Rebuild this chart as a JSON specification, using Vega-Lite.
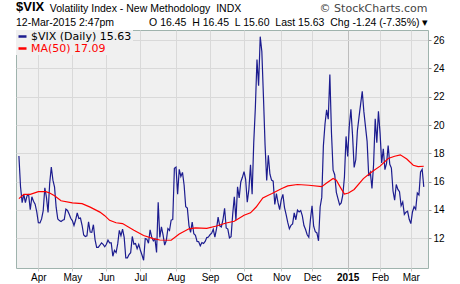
{
  "$schema": "https://vega.github.io/schema/vega-lite/v6.json",
  "width": 412,
  "height": 238,
  "autosize": {"type": "none"},
  "padding": {"left": 16, "top": 30, "right": 32, "bottom": 16},
  "background": "white",
  "config": {
    "view": {"fill": "#f0f0f0", "stroke": "#9fb3ad", "strokeWidth": 1},
    "font": "Liberation Sans"
  },
  "title": {
    "text": "$VIX",
    "subtitle": "12-Mar-2015 2:47pm\u00a0\u00a0\u00a0\u00a0\u00a0\u00a0\u00a0\u00a0\u00a0\u00a0\u00a0\u00a0O 16.45\u00a0 H 16.45\u00a0 L 15.60\u00a0 Last 15.63\u00a0 Chg -1.24 (-7.35%) \u25be",
    "anchor": "start",
    "frame": "group",
    "font": "Liberation Sans",
    "fontSize": 13,
    "fontWeight": "bold",
    "color": "#000000",
    "subtitleFont": "Liberation Sans",
    "subtitleFontSize": 10.5,
    "subtitleColor": "#000000",
    "subtitlePadding": 4,
    "offset": 3,
    "dy": 29
  },
  "datasets": {
    "vix": [
      {"i": -12, "v": 17.82}, {"i": -11, "v": 15.64}, {"i": -10, "v": 14.52}, {"i": -9, "v": 15.12}, {"i": -8, "v": 14.52}, {"i": -7, "v": 15.0}, {"i": -6, "v": 15.09}, {"i": -5, "v": 14.02}, {"i": -4, "v": 14.93}, {"i": -3, "v": 14.62}, {"i": -2, "v": 14.41}, {"i": -1, "v": 13.88},
      {"i": 0, "v": 13.1}, {"i": 1, "v": 13.09}, {"i": 2, "v": 13.37}, {"i": 3, "v": 13.96}, {"i": 4, "v": 15.57}, {"i": 5, "v": 14.89}, {"i": 6, "v": 13.82}, {"i": 7, "v": 15.89}, {"i": 8, "v": 17.03}, {"i": 9, "v": 16.11}, {"i": 10, "v": 15.61}, {"i": 11, "v": 14.18}, {"i": 12, "v": 13.36}, {"i": 13, "v": 13.25}, {"i": 14, "v": 13.19}, {"i": 15, "v": 13.27}, {"i": 16, "v": 13.32}, {"i": 17, "v": 14.06}, {"i": 18, "v": 13.97}, {"i": 19, "v": 13.71}, {"i": 20, "v": 13.41},
      {"i": 21, "v": 13.25}, {"i": 22, "v": 12.91}, {"i": 23, "v": 13.29}, {"i": 24, "v": 13.8}, {"i": 25, "v": 13.4}, {"i": 26, "v": 13.43}, {"i": 27, "v": 12.92}, {"i": 28, "v": 12.23}, {"i": 29, "v": 12.13}, {"i": 30, "v": 12.17}, {"i": 31, "v": 13.17}, {"i": 32, "v": 12.44}, {"i": 33, "v": 12.42}, {"i": 34, "v": 12.96}, {"i": 35, "v": 11.91}, {"i": 36, "v": 11.36}, {"i": 37, "v": 11.36}, {"i": 38, "v": 11.51}, {"i": 39, "v": 11.68}, {"i": 40, "v": 11.57}, {"i": 41, "v": 11.4},
      {"i": 42, "v": 11.58}, {"i": 43, "v": 11.87}, {"i": 44, "v": 11.68}, {"i": 45, "v": 11.68}, {"i": 46, "v": 10.73}, {"i": 47, "v": 11.15}, {"i": 48, "v": 10.99}, {"i": 49, "v": 11.6}, {"i": 50, "v": 12.56}, {"i": 51, "v": 12.18}, {"i": 52, "v": 12.65}, {"i": 53, "v": 12.06}, {"i": 54, "v": 10.61}, {"i": 55, "v": 10.62}, {"i": 56, "v": 10.85}, {"i": 57, "v": 10.98}, {"i": 58, "v": 12.13}, {"i": 59, "v": 11.59}, {"i": 60, "v": 11.63}, {"i": 61, "v": 11.26}, {"i": 62, "v": 11.57},
      {"i": 63, "v": 11.15}, {"i": 64, "v": 10.82}, {"i": 65, "v": 10.45}, {"i": 66, "v": 11.98}, {"i": 67, "v": 11.94}, {"i": 68, "v": 11.65}, {"i": 69, "v": 12.59}, {"i": 70, "v": 12.08}, {"i": 71, "v": 11.82}, {"i": 72, "v": 11.96}, {"i": 73, "v": 11.0}, {"i": 74, "v": 14.54}, {"i": 75, "v": 12.06}, {"i": 76, "v": 12.81}, {"i": 77, "v": 12.24}, {"i": 78, "v": 11.52}, {"i": 79, "v": 11.84}, {"i": 80, "v": 12.69}, {"i": 81, "v": 12.56}, {"i": 82, "v": 13.28}, {"i": 83, "v": 13.33}, {"i": 84, "v": 16.95},
      {"i": 85, "v": 17.03}, {"i": 86, "v": 15.12}, {"i": 87, "v": 16.87}, {"i": 88, "v": 16.37}, {"i": 89, "v": 16.66}, {"i": 90, "v": 15.77}, {"i": 91, "v": 14.23}, {"i": 92, "v": 14.13}, {"i": 93, "v": 12.9}, {"i": 94, "v": 12.42}, {"i": 95, "v": 13.15}, {"i": 96, "v": 12.32}, {"i": 97, "v": 12.21}, {"i": 98, "v": 11.78}, {"i": 99, "v": 11.76}, {"i": 100, "v": 11.47}, {"i": 101, "v": 11.7}, {"i": 102, "v": 11.63}, {"i": 103, "v": 11.78}, {"i": 104, "v": 12.05}, {"i": 105, "v": 12.09},
      {"i": 106, "v": 12.25}, {"i": 107, "v": 12.36}, {"i": 108, "v": 12.64}, {"i": 109, "v": 12.09}, {"i": 110, "v": 12.66}, {"i": 111, "v": 13.5}, {"i": 112, "v": 12.88}, {"i": 113, "v": 12.8}, {"i": 114, "v": 13.31}, {"i": 115, "v": 14.12}, {"i": 116, "v": 12.73}, {"i": 117, "v": 12.65}, {"i": 118, "v": 12.03}, {"i": 119, "v": 12.11}, {"i": 120, "v": 13.69}, {"i": 121, "v": 14.93}, {"i": 122, "v": 13.27}, {"i": 123, "v": 15.64}, {"i": 124, "v": 14.85}, {"i": 125, "v": 15.98}, {"i": 126, "v": 16.31},
      {"i": 127, "v": 16.71}, {"i": 128, "v": 16.16}, {"i": 129, "v": 14.55}, {"i": 130, "v": 15.46}, {"i": 131, "v": 17.2}, {"i": 132, "v": 15.11}, {"i": 133, "v": 18.76}, {"i": 134, "v": 21.24}, {"i": 135, "v": 24.64}, {"i": 136, "v": 22.79}, {"i": 137, "v": 26.25}, {"i": 138, "v": 25.2}, {"i": 139, "v": 21.99}, {"i": 140, "v": 18.57}, {"i": 141, "v": 16.08}, {"i": 142, "v": 17.87}, {"i": 143, "v": 16.53}, {"i": 144, "v": 16.11}, {"i": 145, "v": 16.04}, {"i": 146, "v": 14.39}, {"i": 147, "v": 15.15}, {"i": 148, "v": 14.52}, {"i": 149, "v": 14.03},
      {"i": 150, "v": 14.73}, {"i": 151, "v": 15.1}, {"i": 152, "v": 14.17}, {"i": 153, "v": 13.67}, {"i": 154, "v": 13.12}, {"i": 155, "v": 12.67}, {"i": 156, "v": 12.92}, {"i": 157, "v": 13.02}, {"i": 158, "v": 13.79}, {"i": 159, "v": 13.31}, {"i": 160, "v": 13.99}, {"i": 161, "v": 13.86}, {"i": 162, "v": 13.96}, {"i": 163, "v": 13.58}, {"i": 164, "v": 12.9}, {"i": 165, "v": 12.62}, {"i": 166, "v": 12.25}, {"i": 167, "v": 12.07}, {"i": 168, "v": 13.33},
      {"i": 169, "v": 14.29}, {"i": 170, "v": 12.85}, {"i": 171, "v": 12.47}, {"i": 172, "v": 12.38}, {"i": 173, "v": 11.82}, {"i": 174, "v": 14.21}, {"i": 175, "v": 14.89}, {"i": 176, "v": 18.53}, {"i": 177, "v": 20.08}, {"i": 178, "v": 21.08}, {"i": 179, "v": 20.42}, {"i": 180, "v": 23.57}, {"i": 181, "v": 19.44}, {"i": 182, "v": 16.81}, {"i": 183, "v": 16.49}, {"i": 184, "v": 15.25}, {"i": 185, "v": 14.8}, {"i": 186, "v": 14.37}, {"i": 187, "v": 14.5}, {"i": 188, "v": 15.06}, {"i": 189, "v": 16.33}, {"i": 190, "v": 19.2},
      {"i": 191, "v": 17.79}, {"i": 192, "v": 19.92}, {"i": 193, "v": 21.12}, {"i": 194, "v": 19.31}, {"i": 195, "v": 17.01}, {"i": 196, "v": 17.55}, {"i": 197, "v": 19.6}, {"i": 198, "v": 20.56}, {"i": 199, "v": 21.48}, {"i": 200, "v": 22.39}, {"i": 201, "v": 20.95}, {"i": 202, "v": 19.89}, {"i": 203, "v": 18.85}, {"i": 204, "v": 16.4}, {"i": 205, "v": 16.66}, {"i": 206, "v": 15.52}, {"i": 207, "v": 17.22}, {"i": 208, "v": 20.44}, {"i": 209, "v": 18.76}, {"i": 210, "v": 20.97},
      {"i": 211, "v": 19.43}, {"i": 212, "v": 17.33}, {"i": 213, "v": 18.33}, {"i": 214, "v": 16.85}, {"i": 215, "v": 17.29}, {"i": 216, "v": 18.55}, {"i": 217, "v": 17.23}, {"i": 218, "v": 16.96}, {"i": 219, "v": 15.34}, {"i": 220, "v": 14.69}, {"i": 221, "v": 15.8}, {"i": 222, "v": 15.45}, {"i": 223, "v": 15.29}, {"i": 224, "v": 14.3}, {"i": 225, "v": 14.56}, {"i": 226, "v": 13.69}, {"i": 227, "v": 13.84}, {"i": 228, "v": 13.91}, {"i": 229, "v": 13.34},
      {"i": 230, "v": 13.04}, {"i": 231, "v": 13.86}, {"i": 232, "v": 14.23}, {"i": 233, "v": 14.04}, {"i": 234, "v": 15.2}, {"i": 235, "v": 15.06}, {"i": 236, "v": 16.69}, {"i": 237, "v": 16.87}, {"i": 238, "v": 15.63}
    ],
    "ma": [
      {"i": -12, "v": 14.8}, {"i": -9, "v": 15.1}, {"i": -5, "v": 15.1}, {"i": 0, "v": 15.3}, {"i": 4.6, "v": 15.3}, {"i": 7, "v": 15.2}, {"i": 10, "v": 15.0}, {"i": 14, "v": 14.65}, {"i": 21, "v": 14.5}, {"i": 27, "v": 14.45}, {"i": 32, "v": 14.2}, {"i": 38, "v": 13.85}, {"i": 41, "v": 13.6}, {"i": 44, "v": 13.27}, {"i": 48, "v": 13.1}, {"i": 52, "v": 13.04}, {"i": 59, "v": 12.57}, {"i": 65, "v": 12.2}, {"i": 71, "v": 11.98}, {"i": 75, "v": 11.88}, {"i": 82, "v": 11.86}, {"i": 87, "v": 12.3}, {"i": 93, "v": 12.67}, {"i": 97, "v": 12.73}, {"i": 104, "v": 12.7}, {"i": 110, "v": 12.87}, {"i": 116, "v": 13.08}, {"i": 121, "v": 13.2}, {"i": 127, "v": 13.63}, {"i": 131, "v": 13.8}, {"i": 134.5, "v": 14.21}, {"i": 138.6, "v": 14.85}, {"i": 142, "v": 15.04}, {"i": 144.3, "v": 15.16}, {"i": 150, "v": 15.5}, {"i": 154, "v": 15.7}, {"i": 160, "v": 15.8}, {"i": 167, "v": 15.75}, {"i": 175, "v": 15.65}, {"i": 178, "v": 15.9}, {"i": 182, "v": 16.22}, {"i": 184, "v": 16.1}, {"i": 186.5, "v": 15.6}, {"i": 189, "v": 15.12}, {"i": 191.5, "v": 15.2}, {"i": 195, "v": 15.45}, {"i": 200.7, "v": 16.22}, {"i": 206, "v": 16.7}, {"i": 211, "v": 17.1}, {"i": 216, "v": 17.64}, {"i": 220, "v": 17.8}, {"i": 223.5, "v": 17.9}, {"i": 227.5, "v": 17.6}, {"i": 231.5, "v": 17.16}, {"i": 234.5, "v": 17.06}, {"i": 238, "v": 17.09}
    ]
  },
  "encoding": {
    "x": {
      "field": "i",
      "type": "quantitative",
      "title": "Volatility Index - New Methodology\u00a0\u00a0INDX",
      "scale": {"domain": [-13.8, 240.6], "nice": false, "zero": false},
      "axis": {
        "orient": "bottom",
        "values": [0, 21, 42, 63, 85, 106, 127, 150, 169, 191, 211, 230],
        "labelExpr": "['Apr','May','Jun','Jul','Aug','Sep','Oct','Nov','Dec','2015','Feb','Mar'][indexof([0,21,42,63,85,106,127,150,169,191,211,230], datum.value)]",
        "grid": true,
        "gridColor": {"condition": {"test": "datum.value == 191", "value": "#bdbdbd"}, "value": "#d9d9d9"},
        "domain": false,
        "ticks": true,
        "tickSize": 3,
        "tickColor": "#c8c8c8",
        "labelFont": "Liberation Sans",
        "labelFontSize": 10,
        "labelColor": "#000000",
        "labelPadding": 1,
        "labelFontWeight": {"condition": {"test": "datum.value == 191", "value": "bold"}, "value": "normal"},
        "labelFlush": false,
        "labelOverlap": false,
        "titleX": 33.3,
        "titleY": -257,
        "titleAlign": "left",
        "titleAngle": 0,
        "titleBaseline": "alphabetic",
        "titleFont": "Liberation Sans",
        "titleFontSize": 10.5,
        "titleFontWeight": "normal",
        "titleColor": "#000000"
      }
    },
    "y": {
      "field": "v",
      "type": "quantitative",
      "title": "\u00a9 StockCharts.com",
      "scale": {"domain": [9.9, 26.72], "nice": false, "zero": false},
      "axis": {
        "orient": "right",
        "values": [12, 14, 16, 18, 20, 22, 24, 26],
        "grid": true,
        "gridColor": "#d9d9d9",
        "domain": false,
        "tickSize": 3,
        "tickColor": "#999999",
        "labelFont": "Liberation Sans",
        "labelFontSize": 10,
        "labelColor": "#000000",
        "labelPadding": 2,
        "titleAngle": 0,
        "titleX": -1,
        "titleY": -19,
        "titleAlign": "right",
        "titleBaseline": "alphabetic",
        "titleFont": "DejaVu Sans",
        "titleFontSize": 11,
        "titleFontWeight": "normal",
        "titleColor": "#444444"
      }
    }
  },
  "layer": [
    {
      "data": {"name": "vix"},
      "mark": {"type": "line", "strokeWidth": 1.2, "clip": true},
      "encoding": {
        "color": {
          "datum": "$VIX (Daily) 15.63",
          "scale": {"domain": ["$VIX (Daily) 15.63", "MA(50) 17.09"], "range": ["#1c1c8f", "#ff0000"]},
          "legend": {
            "orient": "top-left",
            "offset": 0,
            "title": null,
            "padding": 1,
            "fillColor": "#f0f0f0",
            "symbolType": "stroke",
            "symbolStrokeWidth": 2.5,
            "symbolSize": 64,
            "labelFont": "DejaVu Sans",
            "labelFontSize": 11,
            "labelOffset": 3,
            "rowPadding": 0,
            "labelColor": {"expr": "datum.label == 'MA(50) 17.09' ? '#ff0000' : '#000000'"}
          }
        }
      }
    },
    {
      "data": {"name": "ma"},
      "mark": {"type": "line", "strokeWidth": 1.2, "clip": true},
      "encoding": {
        "color": {"datum": "MA(50) 17.09"}
      }
    }
  ]
}
